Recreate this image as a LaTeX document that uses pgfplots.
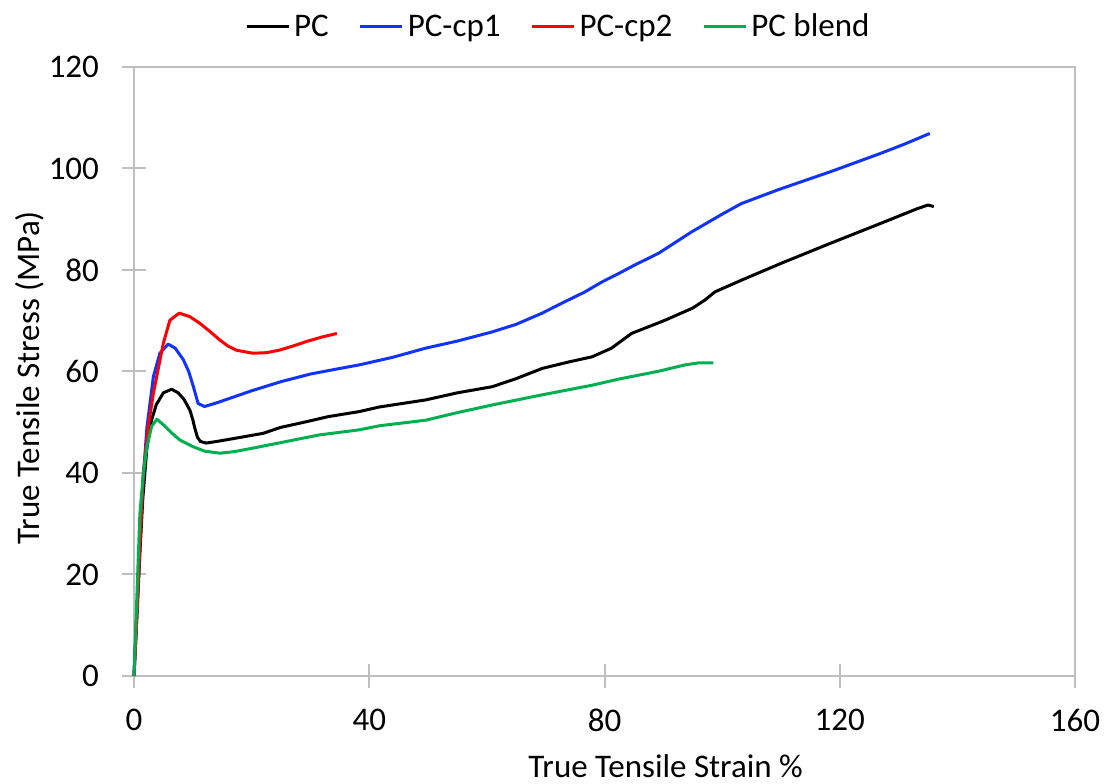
\documentclass[border=0pt]{standalone}
\usepackage{fontspec}
\setmainfont{Carlito}
\usepackage{pgfplots}
\pgfplotsset{compat=1.18}
\definecolor{pcblue}{RGB}{17,51,255}
\definecolor{pcred}{RGB}{255,0,0}
\definecolor{pcgreen}{RGB}{0,176,80}
\definecolor{axgray}{RGB}{191,191,191}
\begin{document}
\begin{tikzpicture}
\begin{axis}[
  name=ax,
  scale only axis,
  width=470.5pt, height=304.5pt,
  xmin=0, xmax=160, ymin=0, ymax=120,
  xtick={0,40,...,160}, ytick={0,20,...,120},
  xtick pos=bottom, ytick pos=left,
  tick align=center, major tick length=12pt,
  axis line style={axgray, line width=1pt},
  tick style={axgray, line width=1pt},
  every axis plot/.append style={line width=1.5pt, line join=round},
  font=\fontsize{16.5}{19}\selectfont,
  /pgf/number format/assume math mode=true,
  ticklabel style={font=\fontsize{16.5}{19}\selectfont},
  yticklabel style={xshift=-8pt},
  xticklabel style={yshift=-7pt},
  xlabel={True Tensile Strain \%},
  ylabel={True Tensile Stress (MPa)},
  xlabel style={at={(axis description cs:0.565,-0.1475)}, anchor=center},
  ylabel style={at={(axis description cs:-0.1105,0.49)}, anchor=center},
  legend columns=4,
  legend style={at={(axis description cs:0.452,1)}, anchor=center, yshift=20pt, draw=none, fill=none,
    font=\fontsize{16.5}{19}\selectfont,
    /tikz/every even column/.append style={column sep=13pt}, inner sep=0pt},
  legend image code/.code={\draw[#1, line width=1.5pt] (0pt,0pt) -- (21pt,0pt);},
  clip=false,
]
\addplot[black] coordinates {
(0,0) (0.5,12) (1,24) (1.5,35) (2.2,45) (3,50.5) (3.8,53.5) (5,55.8) (6.4,56.5) (7.5,55.8) (8.5,54.5) (9.5,52.4) (10,50.5) (10.3,49) (10.8,47) (11.3,46.2) (12.3,45.9) (14,46.2) (17,46.8) (21.9,47.8) (25,49) (29.3,50.1) (33,51.1) (38.3,52.1) (41.7,53) (49.6,54.4) (55,55.8) (60.9,57) (65,58.6) (69.4,60.6) (74,61.9) (77.9,62.9) (81.2,64.6) (84.6,67.5) (90.3,70.1) (95,72.5) (97.1,74.1) (98.8,75.7) (103.3,78) (110,81.3) (118.5,85.3) (127,89.2) (133,92) (135,92.8) (136,92.5)
};
\addlegendentry{PC}
\addplot[pcblue] coordinates {
(0,0) (0.5,13) (1,26) (1.5,38) (2.2,49) (3.3,59) (4.4,63.6) (5.8,65.4) (7,64.6) (8.4,62.3) (9.3,60) (10.1,57) (10.9,53.7) (12,53.1) (14,53.8) (17,55) (20,56.2) (25,58) (30,59.5) (35,60.6) (38.3,61.3) (44,62.8) (49.6,64.6) (55,66) (60.9,67.8) (65,69.3) (69.4,71.5) (73,73.6) (76.7,75.7) (79.5,77.6) (82.4,79.3) (85,80.9) (89.2,83.3) (94.8,87.5) (100,91) (103.3,93.1) (109.5,95.8) (118.5,99.4) (127,103) (131,104.8) (135.3,106.9)
};
\addlegendentry{PC-cp1}
\addplot[pcred] coordinates {
(0,0) (0.5,12) (1,26) (1.6,40) (2.4,49) (3.3,55.7) (4.2,61) (5.0,65.6) (6.1,70.1) (7.7,71.5) (9.5,70.8) (11.2,69.5) (13,67.8) (14.6,66.2) (16,65) (17.4,64.2) (20.2,63.6) (22.5,63.7) (24.7,64.2) (27,65) (29.3,65.9) (32,66.8) (34.5,67.5)
};
\addlegendentry{PC-cp2}
\addplot[pcgreen] coordinates {
(0,0) (0.5,16) (1,32) (1.6,40) (2.2,45.2) (3,49.2) (3.9,50.6) (5,49.5) (6.5,47.8) (7.8,46.5) (10,45.2) (12,44.3) (14.6,43.9) (17,44.2) (20.2,44.9) (25,46) (31.5,47.5) (38.3,48.5) (41.7,49.3) (49.6,50.4) (55,51.9) (60.9,53.4) (69.4,55.4) (77.9,57.3) (82.4,58.5) (84.6,59) (89,60) (93.7,61.3) (96,61.7) (98.5,61.7)
};
\addlegendentry{PC blend}
\end{axis}
\pgfresetboundingbox
\path[use as bounding box] ([shift={(-67pt,-54pt)}]ax.south west) rectangle ([shift={(16pt,33.5pt)}]ax.north east);
\end{tikzpicture}
\end{document}
